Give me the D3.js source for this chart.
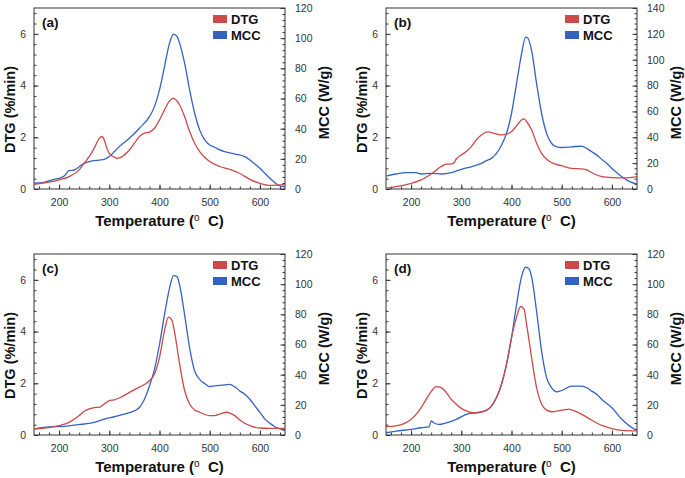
<!DOCTYPE html>
<html>
<head>
<meta charset="utf-8">
<script src="https://cdn.jsdelivr.net/npm/d3@7"></script>
<style>
  body { margin: 0; background: #fff; }
  svg { display: block; font-family: "Liberation Sans", Arial, sans-serif; }
</style>
</head>
<body>
<svg id="chart" width="685" height="478"></svg>
<script>
// ---------- DATA ----------
const panelLabels = ["(a)", "(b)", "(c)", "(d)"];
const legendLabels = ["DTG", "MCC"];
const xTickLabels = [200, 300, 400, 500, 600];
const dtgTickLabels = [0, 2, 4, 6];
const mccMaxByPanel = [120, 140, 120, 120];

// Panel (a)
const tempA_dtg = [150,200,220,240,250,260,270,280,285,290,295,300,310,315,320,330,340,350,360,370,380,390,400,410,420,428,430,440,450,460,470,480,490,500,520,540,560,580,600,620,650];
const dtgA      = [0.18,0.35,0.48,0.74,1.0,1.25,1.58,1.96,2.03,1.9,1.58,1.38,1.23,1.19,1.2,1.32,1.51,1.77,2.03,2.16,2.2,2.35,2.67,3.06,3.41,3.51,3.49,3.26,2.8,2.22,1.77,1.45,1.23,1.06,0.87,0.76,0.6,0.37,0.22,0.14,0.17];
const tempA_mcc = [150,170,190,200,210,220,230,240,250,260,280,290,300,310,320,340,360,380,390,400,410,420,428,435,440,450,460,470,480,490,500,510,520,530,550,570,580,590,600,610,620,630,640,650];
const mccA      = [3.8,4.4,6.4,7.1,8.6,12.2,12.6,14.8,17,18.1,19.2,19.7,21.5,24.8,28.1,33.6,40.3,48,54.6,65.7,81.2,96.7,102.7,101,96.7,83.4,65.7,50.2,39.2,32.5,29.2,27.7,25.9,24.8,23.2,21.5,19.2,16.6,13.7,10.4,7.1,4.2,2.0,1.5];

// Panel (b)
const tempB_dtg = [150,170,200,220,240,260,270,280,285,290,300,310,320,330,340,350,355,360,370,380,390,400,410,420,425,430,440,450,460,470,480,500,520,540,550,560,580,600,620,640,650];
const dtgB      = [0.03,0.09,0.22,0.35,0.58,0.87,0.96,0.97,1.0,1.16,1.32,1.45,1.64,1.9,2.09,2.2,2.21,2.18,2.13,2.09,2.12,2.22,2.44,2.67,2.71,2.61,2.29,1.77,1.38,1.15,1.02,0.9,0.8,0.78,0.74,0.63,0.48,0.44,0.43,0.45,0.48];
const tempB_mcc = [150,170,190,210,220,240,260,280,290,300,320,340,350,360,370,380,390,400,410,420,428,432,440,450,460,470,480,490,500,520,540,550,560,570,580,590,600,610,620,630,640,650];
const mccB      = [10,11.6,12.6,12.6,11.6,12.1,11.6,12.6,13.9,15.2,17.2,19.8,21.9,23.7,27.5,33.9,42.9,58.4,81.5,104.6,117.5,117,107.2,81.5,58.4,42.9,35.2,32.6,32.1,32.6,33.2,31.4,28.8,26.2,22.9,19.8,15.9,12.6,9.5,6.9,4.9,3.9];

// Panel (c)
const tempC_dtg = [150,200,220,240,250,260,270,280,290,300,310,320,340,360,380,390,400,410,418,425,430,440,450,460,470,480,500,510,520,535,540,550,560,580,600,620,650];
const dtgC      = [0.23,0.36,0.49,0.75,0.92,1.01,1.06,1.07,1.2,1.33,1.36,1.43,1.65,1.85,2.1,2.36,3.0,4.04,4.56,4.43,3.98,2.75,1.72,1.2,0.97,0.88,0.75,0.75,0.81,0.88,0.85,0.75,0.58,0.36,0.27,0.26,0.26];
const tempC_mcc = [150,170,190,210,230,250,270,290,310,330,350,360,370,380,390,400,410,420,428,435,440,450,460,470,480,490,500,510,530,540,550,560,570,580,590,600,610,620,630,640,650];
const mccC      = [4,5,5.5,5.7,6.6,7.3,8.4,10.5,12.1,13.8,16,18.2,23.7,32.5,43.5,60,79.8,97.4,105.7,105,99.6,79.8,57.8,42.4,36.9,34.1,32.1,32.5,33.2,33.6,31.9,29.2,27,23.7,19.3,15,10.5,7.7,5.5,4,2.9];

// Panel (d)
const tempD_dtg = [150,170,190,200,210,220,230,240,250,260,270,280,290,300,310,320,330,340,350,360,370,380,390,400,410,418,425,430,440,450,460,470,480,500,515,520,540,560,580,600,620,650];
const dtgD      = [0.32,0.35,0.48,0.61,0.8,1.06,1.38,1.68,1.87,1.83,1.64,1.38,1.19,1.03,0.93,0.87,0.85,0.88,0.96,1.12,1.45,1.96,2.74,3.77,4.55,4.97,4.87,4.29,3.0,1.83,1.19,0.96,0.9,0.96,1.0,0.97,0.8,0.57,0.37,0.25,0.18,0.16];
const tempD_mcc = [150,170,200,220,236,240,245,255,270,290,310,330,350,360,370,380,390,400,410,420,428,435,440,450,460,470,480,490,500,520,540,550,560,570,580,600,620,640,650];
const mccD      = [1.5,2.6,3.7,4.8,5.4,9.3,8.1,7.0,8.1,10.4,13.7,14.8,16.3,19.2,24.7,33.5,46.7,64.3,86.3,105,111.2,110.1,105,81.9,55.5,37.9,31.3,28.6,29.5,32.4,32.4,31.3,29.1,26.9,23.6,18.1,10.4,4.8,3.1];

const panels = [
  { label: panelLabels[0], dtgT: tempA_dtg, dtg: dtgA, mccT: tempA_mcc, mcc: mccA, mccMax: mccMaxByPanel[0] },
  { label: panelLabels[1], dtgT: tempB_dtg, dtg: dtgB, mccT: tempB_mcc, mcc: mccB, mccMax: mccMaxByPanel[1] },
  { label: panelLabels[2], dtgT: tempC_dtg, dtg: dtgC, mccT: tempC_mcc, mcc: mccC, mccMax: mccMaxByPanel[2] },
  { label: panelLabels[3], dtgT: tempD_dtg, dtg: dtgD, mccT: tempD_mcc, mcc: mccD, mccMax: mccMaxByPanel[3] }
];

// ---------- LAYOUT ----------
const RED = "#cc4a4a", BLUE = "#3462c4";
const AXIS = "#333";
const lefts = [34, 386], tops = [8, 254];
const W = 251, H = 181;
const svg = d3.select("#chart");

panels.forEach((p, i) => {
  const ox = lefts[i % 2], oy = tops[Math.floor(i / 2)];
  const g = svg.append("g").attr("transform", `translate(${ox},${oy})`);
  const x = d3.scaleLinear().domain([150, 650]).range([0, W]);
  const yL = d3.scaleLinear().domain([0, 7]).range([H, 0]);
  const yR = d3.scaleLinear().domain([0, p.mccMax]).range([H, 0]);

  const clipId = "clip" + i;
  g.append("clipPath").attr("id", clipId).append("rect").attr("width", W).attr("height", H);

  // minor ticks
  const minorX = d3.range(160, 650, 20);
  const minorL = d3.range(0, 7.01, 0.4);
  const minorR = d3.range(0, p.mccMax + 0.01, 4);

  const styleAxis = (sel) => {
    sel.select(".domain").remove();
    sel.selectAll("line").attr("stroke", AXIS);
    sel.selectAll("text").attr("fill", "#333").style("font-size", "10.5px");
  };

  g.append("g").attr("transform", `translate(0,${H})`)
    .call(d3.axisBottom(x).tickValues(minorX).tickSize(-2.5).tickFormat(""))
    .call(styleAxis);
  g.append("g").attr("transform", `translate(0,${H})`)
    .call(d3.axisBottom(x).tickValues(xTickLabels).tickSizeInner(-4.5).tickSizeOuter(0).tickPadding(10))
    .call(styleAxis);

  g.append("g")
    .call(d3.axisLeft(yL).tickValues(minorL).tickSize(-2.5).tickFormat(""))
    .call(styleAxis);
  g.append("g")
    .call(d3.axisLeft(yL).tickValues(dtgTickLabels).tickSizeInner(-4.5).tickSizeOuter(0).tickPadding(8).tickFormat(d3.format("d")))
    .call(styleAxis);

  g.append("g").attr("transform", `translate(${W},0)`)
    .call(d3.axisRight(yR).tickValues(minorR).tickSize(-2.5).tickFormat(""))
    .call(styleAxis);
  g.append("g").attr("transform", `translate(${W},0)`)
    .call(d3.axisRight(yR).tickValues(d3.range(0, p.mccMax + 1, 20)).tickSizeInner(-4.5).tickSizeOuter(0).tickPadding(10).tickFormat(d3.format("d")))
    .call(styleAxis);

  // frame
  g.append("rect").attr("width", W).attr("height", H)
    .attr("fill", "none").attr("stroke", AXIS).attr("stroke-width", 1);

  // lines
  const lineL = d3.line().x(d => x(d[0])).y(d => yL(d[1])).curve(d3.curveMonotoneX);
  const lineR = d3.line().x(d => x(d[0])).y(d => yR(d[1])).curve(d3.curveMonotoneX);
  const lines = g.append("g").attr("clip-path", `url(#${clipId})`);
  lines.append("path").datum(p.mccT.map((t, k) => [t, p.mcc[k]]))
    .attr("d", lineR).attr("fill", "none").attr("stroke", BLUE).attr("stroke-width", 1.3);
  lines.append("path").datum(p.dtgT.map((t, k) => [t, p.dtg[k]]))
    .attr("d", lineL).attr("fill", "none").attr("stroke", RED).attr("stroke-width", 1.3);

  // panel label
  g.append("text").attr("x", 8).attr("y", 19).text(p.label)
    .style("font-size", "13.5px").style("font-weight", "bold").attr("fill", "#111");

  // legend
  const leg = g.append("g").attr("transform", `translate(${W - 72},0)`);
  [RED, BLUE].forEach((c, k) => {
    leg.append("rect").attr("x", 0).attr("y", 7 + k * 16).attr("width", 14).attr("height", 8).attr("fill", c);
    leg.append("text").attr("x", 18).attr("y", 15.5 + k * 16).text(legendLabels[k])
      .style("font-size", "13px").style("font-weight", "bold").attr("fill", "#111");
  });

  // axis titles
  const xt = g.append("text").attr("x", W / 2).attr("y", H + 37).attr("text-anchor", "middle")
    .style("font-size", "15px").style("font-weight", "bold").attr("fill", "#111");
  xt.append("tspan").text("Temperature (");
  xt.append("tspan").text("o").attr("dy", -5).style("font-size", "10px").style("font-weight", "normal");
  xt.append("tspan").text("\u00a0\u00a0C)").attr("dy", 5);

  g.append("text").attr("transform", `translate(-19,${H / 2 + 11}) rotate(-90)`)
    .attr("text-anchor", "middle").text("DTG (%/min)")
    .style("font-size", "14.5px").style("font-weight", "bold").attr("fill", "#111");
  g.append("text").attr("transform", `translate(${W + 44},${H / 2 + 4}) rotate(-90)`)
    .attr("text-anchor", "middle").text("MCC (W/g)")
    .style("font-size", "14.5px").style("font-weight", "bold").attr("fill", "#111");
});
</script>
</body>
</html>
